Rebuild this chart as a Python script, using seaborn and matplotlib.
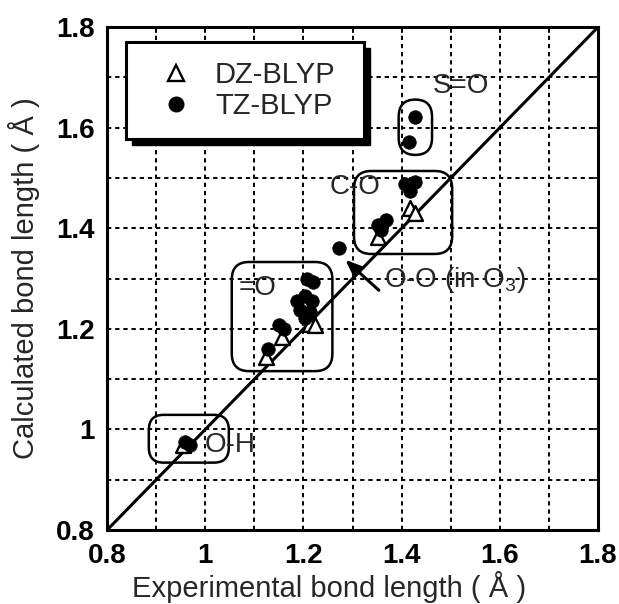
import matplotlib
matplotlib.use("Agg")
import matplotlib.pyplot as plt
from matplotlib.patches import FancyBboxPatch, Rectangle
from matplotlib.lines import Line2D
import seaborn as sns
import pandas as pd

# Bond lengths (Å): experimental vs calculated
dz_exp = [0.955, 1.123, 1.157, 1.213, 1.223, 1.352, 1.417, 1.427]
dz_calc = [0.970, 1.145, 1.183, 1.210, 1.207, 1.383, 1.441, 1.431]

tz_exp = [0.958, 0.969, 1.127, 1.150, 1.160, 1.187, 1.203, 1.217, 1.193, 1.213,
          1.203, 1.207, 1.220, 1.273, 1.352, 1.369, 1.359, 1.407, 1.427, 1.417,
          1.416, 1.427]
tz_calc = [0.976, 0.970, 1.159, 1.207, 1.200, 1.255, 1.266, 1.255, 1.238, 1.234,
           1.221, 1.300, 1.293, 1.360, 1.407, 1.417, 1.397, 1.488, 1.492, 1.475,
           1.572, 1.621]

diag = [0.8, 1.8]
ticks = [0.8, 1.0, 1.2, 1.4, 1.6, 1.8]
tick_labels = ["0.8", "1", "1.2", "1.4", "1.6", "1.8"]
series_names = ["DZ-BLYP", "TZ-BLYP"]

# Group outlines: (label, x0, x1, y0, y1, corner radius)
groups = [
    ("O-H", 0.885, 1.048, 0.934, 1.029, 0.03),
    ("C=O", 1.054, 1.259, 1.116, 1.333, 0.035),
    ("C-O", 1.303, 1.503, 1.349, 1.514, 0.035),
    ("S=O", 1.394, 1.462, 1.546, 1.656, 0.034),
]

sns.set_style("white")
plt.rcParams["font.family"] = ["Liberation Sans", "DejaVu Sans"]
plt.rcParams["mathtext.fontset"] = "custom"
plt.rcParams["mathtext.rm"] = "Liberation Sans"

fig = plt.figure(figsize=(6.19, 6.04), dpi=100)
ax = fig.add_axes([0.173, 0.1225, 0.793, 0.8325])

# dashed grid at every 0.1
for v in [0.9, 1.0, 1.1, 1.2, 1.3, 1.4, 1.5, 1.6, 1.7]:
    ax.axvline(v, color="black", lw=1.4, ls=(0, (2.2, 2.0)), zorder=0)
    ax.axhline(v, color="black", lw=1.4, ls=(0, (2.2, 2.0)), zorder=0)

sns.lineplot(x=diag, y=diag, ax=ax, color="black", lw=2.2, zorder=2)

for name, x0, x1, y0, y1, r in groups:
    ax.add_patch(FancyBboxPatch((x0, y0), x1 - x0, y1 - y0,
                                boxstyle=f"round,pad=0,rounding_size={r}",
                                fc="none", ec="black", lw=1.8, zorder=1))

dz = pd.DataFrame({"exp": dz_exp, "calc": dz_calc})
tz = pd.DataFrame({"exp": tz_exp, "calc": tz_calc})
sns.scatterplot(data=dz, x="exp", y="calc", ax=ax, marker="^", s=115,
                facecolor="white", edgecolor="black", linewidth=1.7, zorder=3)
sns.scatterplot(data=tz, x="exp", y="calc", ax=ax, marker="o", s=95,
                color="black", edgecolor="black", linewidth=0.5, zorder=4)

ax.set_xlim(0.8, 1.8)
ax.set_ylim(0.8, 1.8)
ax.set_xticks(ticks)
ax.set_xticklabels(tick_labels)
ax.set_yticks(ticks)
ax.set_yticklabels(tick_labels)
ax.set_xticks([0.9, 1.1, 1.3, 1.5, 1.7], minor=True)
ax.set_yticks([0.9, 1.1, 1.3, 1.5, 1.7], minor=True)
ax.tick_params(which="both", direction="in", length=4, width=1.2, colors="black",
               top=True, right=True)
ax.tick_params(which="major", labelsize=20, pad=9)
for lab in ax.get_xticklabels() + ax.get_yticklabels():
    lab.set_fontweight("bold")
for s in ax.spines.values():
    s.set_linewidth(2.2)
    s.set_color("black")

ax.set_xlabel("Experimental bond length ( Å )", fontsize=21)
ax.set_ylabel("Calculated bond length ( Å )", fontsize=21)
ax.xaxis.set_label_coords(0.452, -0.082)
ax.yaxis.set_label_coords(-0.137, 0.5)

# group labels
lab_kw = dict(fontsize=20, ha="center", va="center", zorder=5)
ax.text(1.52, 1.684, "S=O", **lab_kw)
ax.text(1.305, 1.483, "C-O", **lab_kw)
ax.text(1.107, 1.281, "=O", **lab_kw)
ax.text(1.05, 0.970, "O-H", **lab_kw)
ax.text(1.365, 1.297, "O-O (in O$_{\\mathrm{3}}$)", fontsize=20, ha="left",
        va="center", zorder=5)
ax.annotate("", xy=(1.281, 1.341), xytext=(1.358, 1.273),
            arrowprops=dict(arrowstyle="-|>,head_length=1.0,head_width=0.4",
                            color="black", lw=2.2), zorder=5)

handles = [
    Line2D([], [], marker="^", ls="none", markersize=12, mfc="white",
           mec="black", mew=1.7),
    Line2D([], [], marker="o", ls="none", markersize=10.5, mfc="black",
           mec="black"),
]
leg = ax.legend(handles, series_names, loc="upper left", mode="expand",
                bbox_to_anchor=(0.0387, 0.5, 0.485, 0.47), fontsize=21,
                frameon=True, fancybox=False, edgecolor="black", framealpha=1,
                borderpad=0.65, handletextpad=0.3, labelspacing=0.1,
                handlelength=2.1, borderaxespad=0)
leg.get_frame().set_linewidth(2.2)
leg.set_zorder(10)

# solid drop shadow behind the legend frame
fig.canvas.draw()
bb = leg.get_window_extent().transformed(ax.transAxes.inverted())
off_x = 6 / (ax.bbox.width)
off_y = 6 / (ax.bbox.height)
ax.add_patch(Rectangle((bb.x0 + off_x, bb.y0 - off_y), bb.width, bb.height,
                       transform=ax.transAxes, fc="black", ec="black",
                       zorder=9))

fig.savefig("out.png", dpi=100)
